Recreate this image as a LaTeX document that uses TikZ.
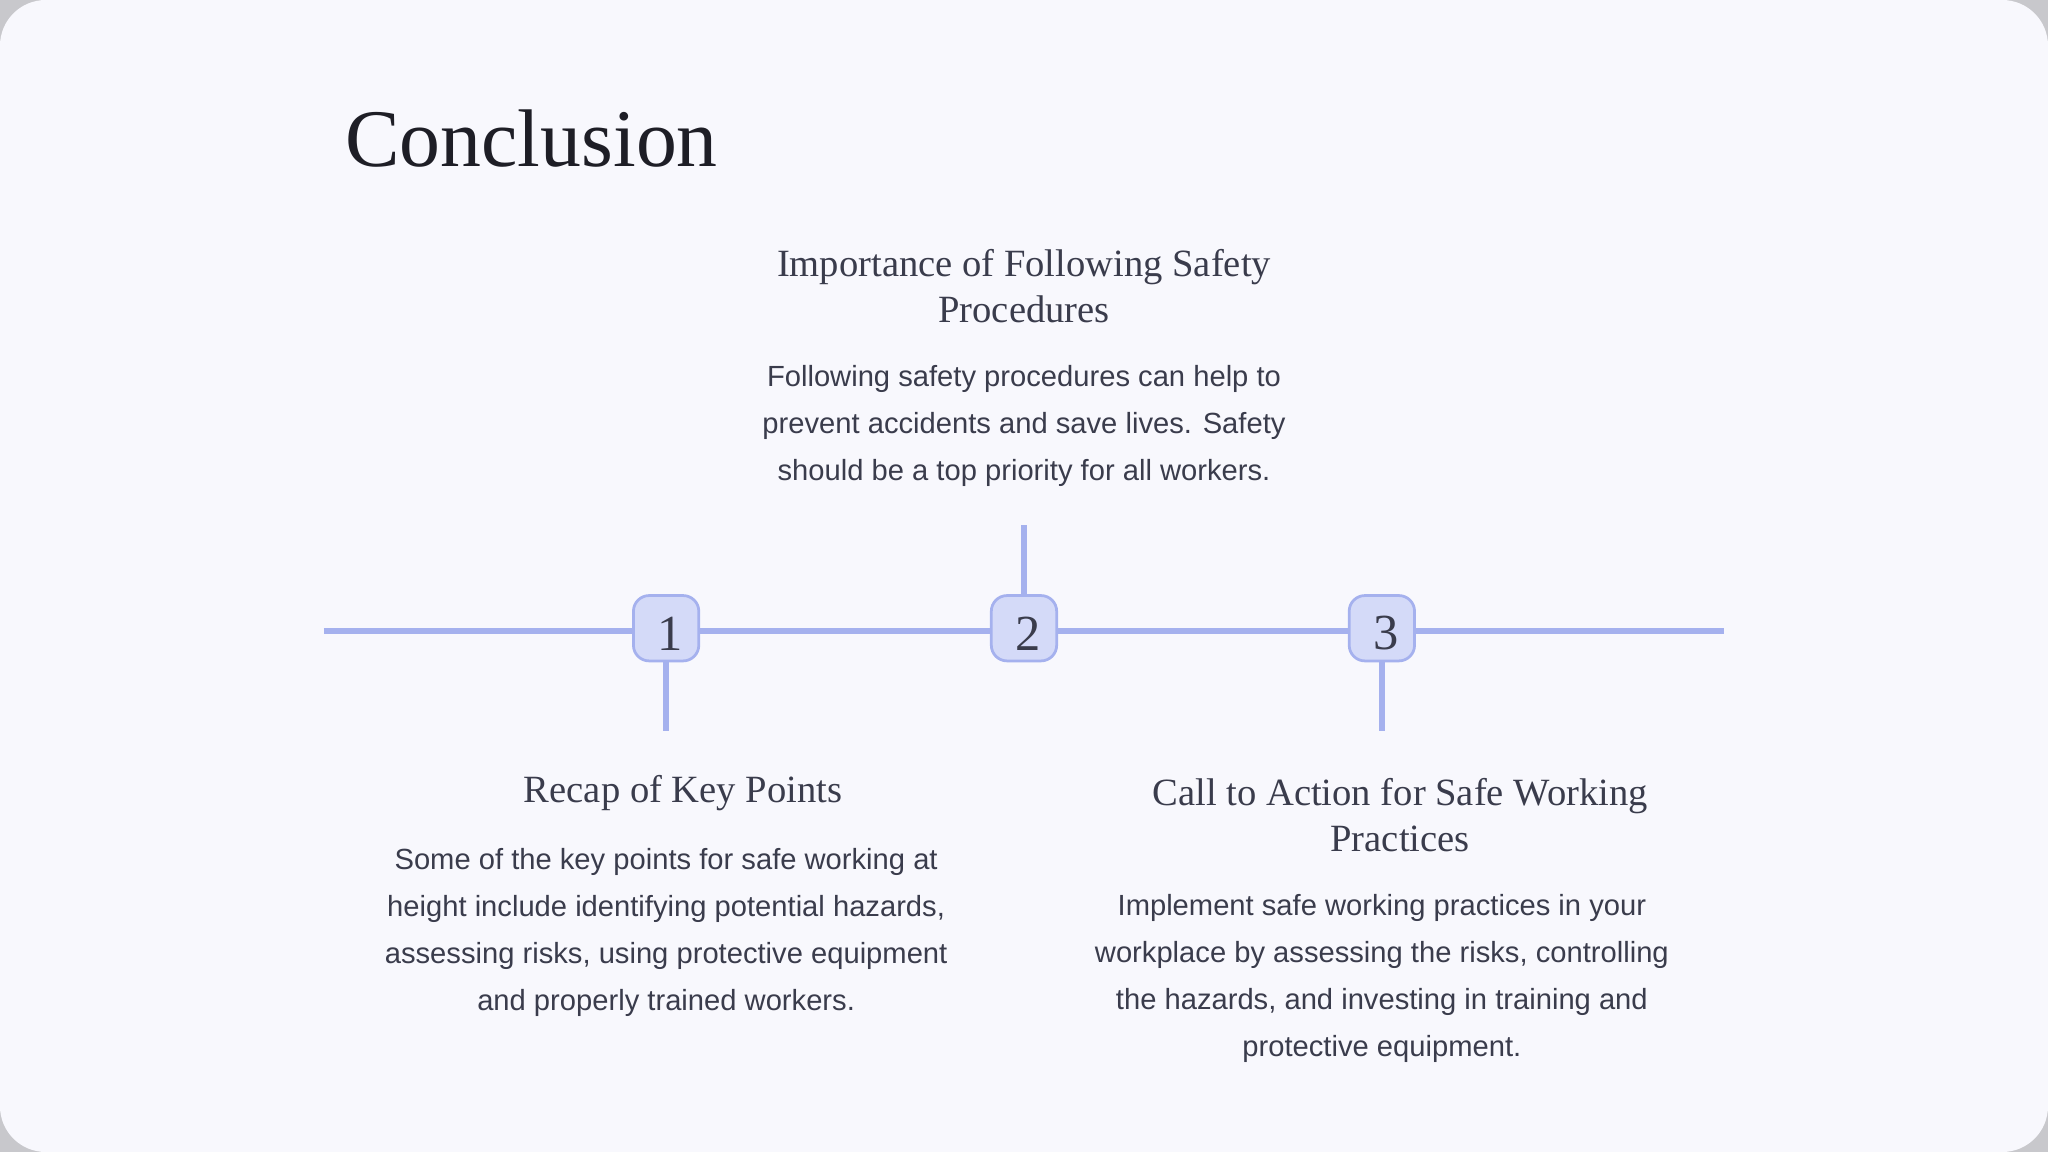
\documentclass[tikz,border=0pt]{standalone}
\usepackage{fontspec}
\setmainfont{Liberation Sans}
\newfontfamily\headfont{Liberation Serif}
\definecolor{bg}{HTML}{F8F8FD}
\definecolor{edge}{HTML}{C8C8CC}
\definecolor{tl}{HTML}{A5B1EE}
\definecolor{boxfill}{HTML}{D4DAF8}
\definecolor{ink}{HTML}{3A3C4C}
\definecolor{title}{HTML}{1E1E26}
\begin{document}
\begin{tikzpicture}[x=0.01cm,y=-0.01cm,
  numbox/.style={draw=tl,fill=boxfill,line width=0.6pt,rounded corners=1.2mm,minimum size=0.5cm,inner sep=0pt,text=ink,font=\headfont\fontsize{11pt}{11pt}\selectfont},
  tline/.style={draw=tl,line width=1.2pt},
  heading/.style={text=ink,align=center,font=\headfont\fontsize{8.4pt}{10pt}\selectfont},
  body/.style={text=ink,align=center,font=\fontsize{6.35pt}{10.2pt}\selectfont}]
\fill[edge] (0,0) rectangle (1568,882);
\fill[bg,rounded corners=0.35cm] (0,0) rectangle (1568,882);
\useasboundingbox (0,0) rectangle (1568,882);
\node[anchor=west,text=title,font=\headfont\fontsize{17.8pt}{17.8pt}\selectfont] (t) at (252,106) {Conclusion};
\coordinate (L) at (248,483);
\coordinate (R) at (1320,483);
\draw[tline] (L) -- (R);
\coordinate (s1) at (510,560);
\coordinate (s2) at (784,402);
\coordinate (s3) at (1058,560);
\node[numbox] (b1) at (510,481) {};
\node[numbox] (b2) at (784,481) {};
\node[numbox] (b3) at (1058,481) {};
\node[text=ink,font=\headfont\fontsize{11pt}{11pt}\selectfont] (n1) at (513,485) {1};
\node[text=ink,font=\headfont\fontsize{11pt}{11pt}\selectfont] (n2) at (787,485) {2};
\node[text=ink,font=\headfont\fontsize{11pt}{11pt}\selectfont] (n3) at (1061,485) {3};
\draw[tline] (b1) -- (s1);
\draw[tline] (b2) -- (s2);
\draw[tline] (b3) -- (s3);
\node[heading] (h2) at (784,219) {Importance of Following Safety\\Procedures};
\node[body] (p2) at (784,326) {Following safety procedures can help to\\prevent accidents and save lives. Safety\\should be a top priority for all workers.};
\node[heading] (h1) at (523,607) {Recap of Key Points};
\node[body] (p1) at (510,714) {Some of the key points for safe working at\\height include identifying potential hazards,\\assessing risks, using protective equipment\\and properly trained workers.};
\node[heading] (h3) at (1072,624) {Call to Action for Safe Working\\Practices};
\node[body] (p3) at (1058,749) {Implement safe working practices in your\\workplace by assessing the risks, controlling\\the hazards, and investing in training and\\protective equipment.};
\end{tikzpicture}
\end{document}
